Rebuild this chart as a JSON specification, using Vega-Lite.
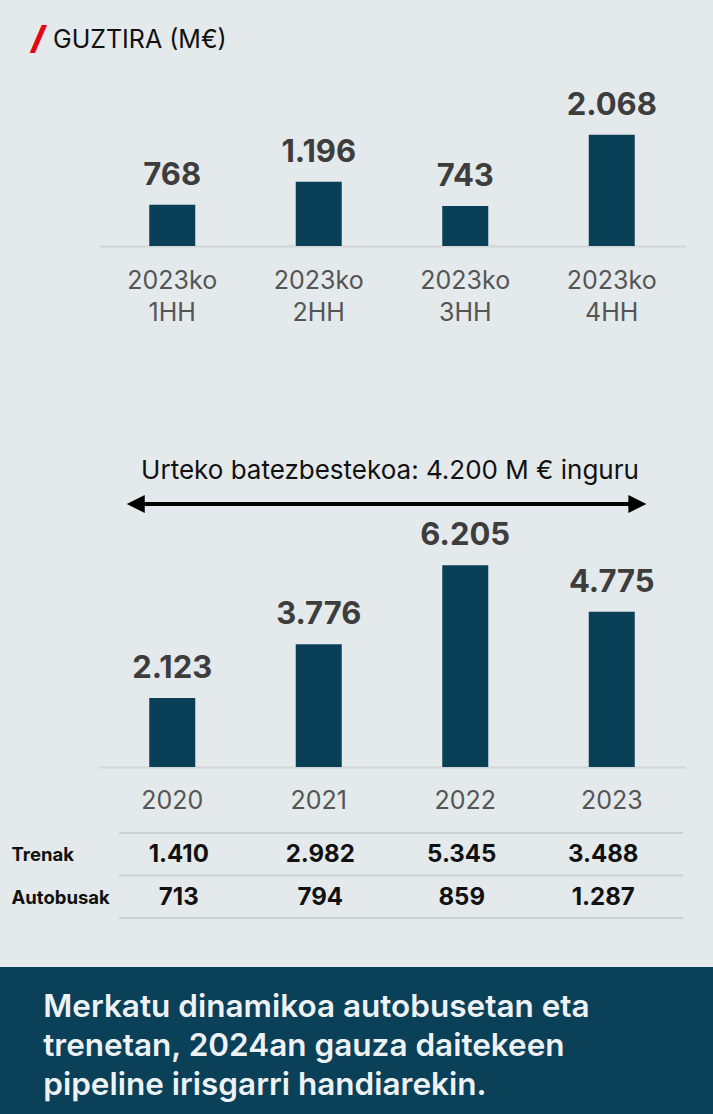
{
  "$schema": "https://vega.github.io/schema/vega-lite/v6.json",
  "background": "#e4e9eb",
  "padding": 0,
  "spacing": 0,
  "bounds": "flush",
  "config": {
    "view": {"stroke": null},
    "font": "Inter",
    "locale": {"number": {"decimal": ",", "thousands": ".", "grouping": [3], "currency": ["", " €"]}}
  },
  "resolve": {"scale": {"x": "independent", "y": "independent"}},
  "vconcat": [
    {
      "width": 713,
      "height": 246,
      "data": {"values": [
        {"period": "2023ko 1HH", "value": 768},
        {"period": "2023ko 2HH", "value": 1196},
        {"period": "2023ko 3HH", "value": 743},
        {"period": "2023ko 4HH", "value": 2068}
      ]},
      "layer": [
        {
          "mark": {"type": "bar", "width": 46, "color": "#0a3f58"},
          "encoding": {
            "x": {"field": "period", "type": "nominal", "sort": null,
              "scale": {"range": [99, 685], "paddingInner": 0, "paddingOuter": 0},
              "axis": {"title": null, "domainColor": "#d2d6d8", "domainWidth": 2, "ticks": false,
                "labelFontSize": 25, "labelColor": "#555555", "labelPadding": 42, "labelBaseline": "alphabetic",
                "labelLineHeight": 32, "labelExpr": "split(datum.label, ' ')", "labelAngle": 0, "labelOverlap": false}},
            "y": {"field": "value", "type": "quantitative", "scale": {"domain": [0, 4576], "nice": false}, "axis": null}
          }
        },
        {
          "mark": {"type": "text", "dy": -20, "baseline": "alphabetic", "fontSize": 31, "fontWeight": "bold", "color": "#3d3d3d"},
          "encoding": {
            "x": {"field": "period", "type": "nominal", "sort": null},
            "y": {"field": "value", "type": "quantitative"},
            "text": {"field": "value", "type": "quantitative", "format": ","}
          }
        },
        {
          "data": {"values": [{"title": "GUZTIRA (M€)"}]},
          "mark": {"type": "text", "align": "left", "baseline": "alphabetic", "dx": -46, "dy": 48, "fontSize": 25, "color": "#111111"},
          "encoding": {
            "x": {"datum": "2023ko 1HH", "type": "nominal", "bandPosition": 0},
            "y": {"datum": 4576, "type": "quantitative"},
            "text": {"field": "title", "type": "nominal"}
          }
        },
        {
          "data": {"values": [{"mark": "/"}]},
          "mark": {"type": "text", "align": "center", "baseline": "alphabetic", "dx": -61, "dy": 49, "fontSize": 32, "fontWeight": 900, "fontStyle": "italic", "color": "#e30613"},
          "encoding": {
            "x": {"datum": "2023ko 1HH", "type": "nominal", "bandPosition": 0},
            "y": {"datum": 4576, "type": "quantitative"},
            "text": {"field": "mark", "type": "nominal"}
          }
        }
      ]
    },
    {
      "width": 713,
      "height": 521,
      "data": {"values": [
        {"year": "2020", "value": 2123},
        {"year": "2021", "value": 3776},
        {"year": "2022", "value": 6205},
        {"year": "2023", "value": 4775}
      ]},
      "layer": [
        {
          "mark": {"type": "bar", "width": 46, "color": "#0a3f58"},
          "encoding": {
            "x": {"field": "year", "type": "nominal", "sort": null,
              "scale": {"range": [99, 685], "paddingInner": 0, "paddingOuter": 0},
              "axis": {"title": null, "domainColor": "#d2d6d8", "domainWidth": 2, "ticks": false,
                "labelFontSize": 25, "labelColor": "#555555", "labelPadding": 41, "labelBaseline": "alphabetic",
                "labelAngle": 0, "labelOverlap": false}},
            "y": {"field": "value", "type": "quantitative", "scale": {"domain": [0, 16021], "nice": false}, "axis": null}
          }
        },
        {
          "mark": {"type": "text", "dy": -20, "baseline": "alphabetic", "fontSize": 31, "fontWeight": "bold", "color": "#3d3d3d"},
          "encoding": {
            "x": {"field": "year", "type": "nominal", "sort": null},
            "y": {"field": "value", "type": "quantitative"},
            "text": {"field": "value", "type": "quantitative", "format": ","}
          }
        },
        {
          "data": {"values": [{"note": "Urteko batezbestekoa: 4.200 M € inguru"}]},
          "mark": {"type": "text", "align": "center", "baseline": "alphabetic", "dx": -2, "fontSize": 26, "color": "#111111"},
          "encoding": {
            "x": {"datum": "2021", "type": "nominal", "bandPosition": 1},
            "y": {"datum": 8868, "type": "quantitative"},
            "text": {"field": "note", "type": "nominal"}
          }
        },
        {
          "data": {"values": [{"span": "2020-2023"}]},
          "mark": {"type": "rule", "strokeWidth": 4, "color": "#000000"},
          "encoding": {
            "x": {"datum": "2020", "type": "nominal", "bandPosition": 0.253},
            "x2": {"datum": "2023", "bandPosition": 0.672},
            "y": {"datum": 8087, "type": "quantitative"}
          }
        },
        {
          "data": {"values": [{"span": "2020-2023"}]},
          "mark": {"type": "point", "shape": "M -1 0 L 1 -1 L 1 1 Z", "size": 324, "filled": true, "opacity": 1, "color": "#000000", "strokeWidth": 0},
          "encoding": {
            "x": {"datum": "2020", "type": "nominal", "bandPosition": 0.251},
            "y": {"datum": 8087, "type": "quantitative"}
          }
        },
        {
          "data": {"values": [{"span": "2020-2023"}]},
          "mark": {"type": "point", "shape": "M 1 0 L -1 -1 L -1 1 Z", "size": 324, "filled": true, "opacity": 1, "color": "#000000", "strokeWidth": 0},
          "encoding": {
            "x": {"datum": "2023", "type": "nominal", "bandPosition": 0.675},
            "y": {"datum": 8087, "type": "quantitative"}
          }
        }
      ]
    },
    {
      "width": 713,
      "height": 200,
      "data": {"values": [
        {"row": "Trenak", "year": "2020", "value": 1410},
        {"row": "Trenak", "year": "2021", "value": 2982},
        {"row": "Trenak", "year": "2022", "value": 5345},
        {"row": "Trenak", "year": "2023", "value": 3488},
        {"row": "Autobusak", "year": "2020", "value": 713},
        {"row": "Autobusak", "year": "2021", "value": 794},
        {"row": "Autobusak", "year": "2022", "value": 859},
        {"row": "Autobusak", "year": "2023", "value": 1287}
      ]},
      "layer": [
        {
          "mark": {"type": "text", "baseline": "alphabetic", "dy": 8, "fontSize": 24, "fontWeight": "bold", "color": "#111111"},
          "encoding": {
            "x": {"field": "year", "type": "nominal", "sort": null,
              "scale": {"domain": ["2020", "2021", "2022", "2023"], "range": [108, 674], "paddingInner": 0, "paddingOuter": 0},
              "axis": null},
            "y": {"field": "row", "type": "nominal", "sort": ["Trenak", "Autobusak"],
              "scale": {"domain": ["Trenak", "Autobusak"], "range": [66, 151], "paddingInner": 0, "paddingOuter": 0},
              "axis": {"title": null, "orient": "left", "offset": -11, "domain": false, "ticks": false,
                "labelPadding": 0, "labelAlign": "left", "labelBaseline": "alphabetic", "labelOffset": 7,
                "labelFontSize": 18.5, "labelFontWeight": "bold", "labelColor": "#111111"}},
            "text": {"field": "value", "type": "quantitative", "format": ","}
          }
        },
        {
          "data": {"values": [{"row": "Trenak"}, {"row": "Autobusak"}]},
          "mark": {"type": "rule", "strokeWidth": 2, "color": "#cdd1d4"},
          "encoding": {
            "x": {"datum": "2020", "type": "nominal", "bandPosition": 0.078},
            "x2": {"datum": "2023", "bandPosition": 1.064},
            "y": {"field": "row", "type": "nominal", "bandPosition": 0}
          }
        },
        {
          "data": {"values": [{"row": "Autobusak"}]},
          "mark": {"type": "rule", "strokeWidth": 2, "color": "#cdd1d4"},
          "encoding": {
            "x": {"datum": "2020", "type": "nominal", "bandPosition": 0.078},
            "x2": {"datum": "2023", "bandPosition": 1.064},
            "y": {"field": "row", "type": "nominal", "bandPosition": 1}
          }
        }
      ]
    },
    {
      "width": 713,
      "height": 147,
      "view": {"fill": "#0a4058", "stroke": null},
      "data": {"values": [
        {"line": 1, "text": "Merkatu dinamikoa autobusetan eta"},
        {"line": 2, "text": "trenetan, 2024an gauza daitekeen"},
        {"line": 3, "text": "pipeline irisgarri handiarekin."}
      ]},
      "mark": {"type": "text", "align": "left", "baseline": "alphabetic", "dx": -129, "fontSize": 31.5, "fontWeight": 600, "color": "#eef2f4"},
      "encoding": {
        "x": {"datum": "2020", "type": "nominal", "bandPosition": 0.5,
          "scale": {"domain": ["2020", "2021", "2022", "2023"], "range": [99, 685], "paddingInner": 0, "paddingOuter": 0},
          "axis": null},
        "y": {"field": "line", "type": "ordinal", "scale": {"type": "point", "range": [49.5, 127.5], "padding": 0}, "axis": null},
        "text": {"field": "text", "type": "nominal"}
      }
    }
  ]
}
